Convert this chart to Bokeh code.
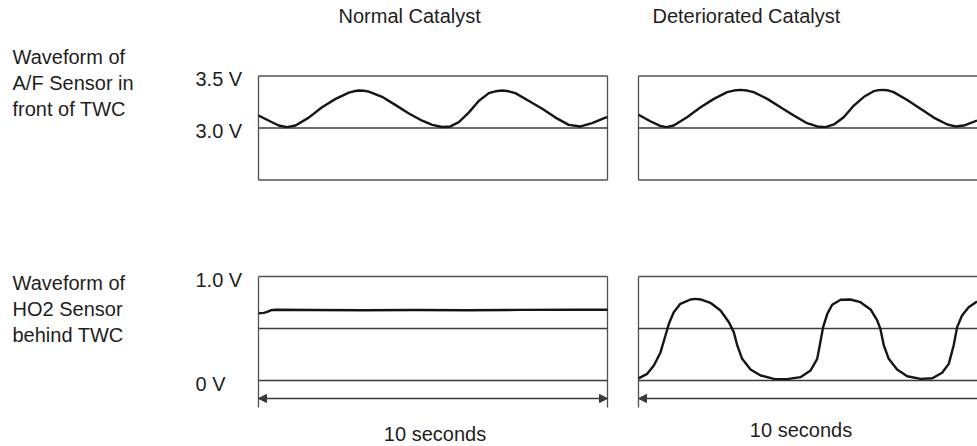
from bokeh.plotting import figure
from bokeh.layouts import column, row
from bokeh.models import Range1d, Label, Arrow, NormalHead
from bokeh.embed import file_html
from bokeh.resources import INLINE

# ---------------- data ----------------
duration_s = 10
col_titles = ["Normal Catalyst", "Deteriorated Catalyst"]
af_row_title = ["Waveform of", "A/F Sensor in", "front of TWC"]
ho2_row_title = ["Waveform of", "HO2 Sensor", "behind TWC"]
af_ticks = [3.5, 3.0]
af_tick_labels = ["3.5 V", "3.0 V"]
ho2_ticks = [1.0, 0.0]
ho2_tick_labels = ["1.0 V", "0 V"]
af_box = [2.5, 3.5]
af_ref_levels = [3.0]
ho2_box_top = 1.0
ho2_ref_levels = [0.5, 0.0]
span_label = "10 seconds"

af_normal_t = [0.00, 0.30, 0.58, 0.82, 1.06, 1.44, 1.82, 2.21, 2.59, 2.73, 2.87, 3.02, 3.16, 3.54, 3.93, 4.31,
               4.69, 4.98, 5.26, 5.50, 5.74, 6.03, 6.31, 6.60, 6.79, 6.98, 7.17, 7.36, 7.75, 8.13, 8.51, 8.89,
               9.23, 9.56, 9.94, 10.00]
af_normal_v = [3.12, 3.07, 3.024, 3.008, 3.024, 3.10, 3.20, 3.28, 3.34, 3.353, 3.36, 3.358, 3.35, 3.30, 3.22, 3.14,
               3.07, 3.03, 3.01, 3.015, 3.056, 3.15, 3.26, 3.335, 3.353, 3.36, 3.353, 3.335, 3.26, 3.185, 3.10, 3.03,
               3.015, 3.046, 3.10, 3.105]

af_det_t = [0.00, 0.34, 0.62, 0.80, 1.01, 1.39, 1.78, 2.16, 2.54, 2.73, 2.92, 3.11, 3.30, 3.69, 4.07, 4.45,
            4.83, 5.12, 5.36, 5.60, 5.88, 6.17, 6.46, 6.74, 6.88, 7.03, 7.17, 7.31, 7.70, 8.08, 8.46, 8.85,
            9.08, 9.32, 9.70]
af_det_v = [3.127, 3.065, 3.02, 3.008, 3.024, 3.104, 3.20, 3.28, 3.345, 3.36, 3.367, 3.36, 3.345, 3.28, 3.20, 3.12,
            3.046, 3.015, 3.008, 3.034, 3.104, 3.216, 3.30, 3.354, 3.364, 3.367, 3.36, 3.345, 3.27, 3.185, 3.10, 3.034,
            3.015, 3.024, 3.072]

ho2_normal_t = [0.0, 0.15, 0.25, 0.35, 0.5, 1.5, 3.0, 4.5, 6.0, 7.5, 9.0, 10.0]
ho2_normal_v = [0.645, 0.65, 0.66, 0.675, 0.68, 0.678, 0.676, 0.678, 0.676, 0.679, 0.681, 0.68]

ho2_det_t = [0.00, 0.25, 0.44, 0.63, 0.77, 0.87, 1.01, 1.20, 1.49, 1.63, 1.78, 2.06, 2.35, 2.59, 2.73, 2.83,
             2.97, 3.21, 3.50, 3.88, 4.26, 4.64, 4.93, 5.12, 5.21, 5.29, 5.41, 5.55, 5.79, 6.07, 6.36, 6.65,
             6.84, 6.93, 7.03, 7.17, 7.41, 7.70, 8.08, 8.42, 8.70, 8.89, 9.03, 9.13, 9.27, 9.46, 9.70]
ho2_det_v = [0.02, 0.064, 0.144, 0.27, 0.43, 0.545, 0.657, 0.737, 0.779, 0.785, 0.779, 0.747, 0.673, 0.56, 0.465, 0.337,
             0.208, 0.106, 0.048, 0.016, 0.013, 0.032, 0.096, 0.208, 0.368, 0.513, 0.641, 0.728, 0.776, 0.779, 0.753, 0.683,
             0.577, 0.497, 0.337, 0.208, 0.106, 0.041, 0.016, 0.022, 0.074, 0.16, 0.337, 0.513, 0.625, 0.705, 0.76]

# ---------------- styling / layout ----------------
PX_PER_S = 34.9
PX_PER_V = 104.0
FONT = "Liberation Sans"
FSIZE = "20px"
TXT = "#1e1e1e"
WAVE = "#151515"
BOX = "#505050"
REF = "#3a3a3a"
DY = 8  # baseline correction for label placement


def make_panel(w, h, t0_px, vtop, vtop_px):
    # frame covers the whole canvas so that texts are not clipped
    x0 = -t0_px / PX_PER_S
    y1 = vtop + vtop_px / PX_PER_V
    p = figure(width=w, height=h, min_border=0,
               x_range=Range1d(x0, x0 + w / PX_PER_S),
               y_range=Range1d(y1 - h / PX_PER_V, y1),
               x_axis_location=None, y_axis_location=None,
               toolbar_location=None, output_backend="svg")
    p.grid.visible = False
    p.outline_line_color = None
    p.background_fill_color = "white"
    p.border_fill_color = "white"
    return p


def text(p, x, y, s, dx, dy, align="left", baseline="alphabetic"):
    p.add_layout(Label(x=x, y=y, text=s, x_offset=dx, y_offset=dy + DY,
                       text_font=FONT, text_font_size=FSIZE, text_color=TXT,
                       text_align=align, text_baseline=baseline))


def af_panel(p, t, v):
    lo, hi = af_box
    p.segment(x0=[0, 0, 0, duration_s], y0=[hi, lo, lo, lo],
              x1=[duration_s, duration_s, 0, duration_s], y1=[hi, lo, hi, hi],
              line_color=BOX, line_width=1.3)
    for lv in af_ref_levels:
        p.line([0, duration_s], [lv, lv], line_color=REF, line_width=1.4)
    p.line(t, v, line_color=WAVE, line_width=2.4, line_join="round")


SIDE_LOW = -0.26
ARROW_Y = -0.173


def ho2_panel(p, t, v):
    top = ho2_box_top
    p.segment(x0=[0, 0, duration_s], y0=[top, SIDE_LOW, SIDE_LOW],
              x1=[duration_s, 0, duration_s], y1=[top, top, top],
              line_color=BOX, line_width=1.3)
    for lv in ho2_ref_levels:
        p.line([0, duration_s], [lv, lv], line_color=REF, line_width=1.4)
    p.line(t, v, line_color=WAVE, line_width=2.4, line_join="round")
    p.add_layout(Arrow(x_start=0, y_start=ARROW_Y, x_end=duration_s, y_end=ARROW_Y,
                       line_color=REF, line_width=1.3,
                       start=NormalHead(size=8, fill_color=REF, line_color=REF),
                       end=NormalHead(size=8, fill_color=REF, line_color=REF)))


# top row
tl = make_panel(622, 228, 258, af_box[1], 75.5)
tr = make_panel(355, 228, 16, af_box[1], 75.5)
af_panel(tl, af_normal_t, af_normal_v)
af_panel(tr, af_det_t, af_det_v)
text(tl, 0, af_box[1], col_titles[0], 80, 52)
text(tr, 0, af_box[1], col_titles[1], 14, 52)
for i, line in enumerate(af_row_title):
    text(tl, 0, af_box[1], line, -246, 11.5 - 26 * i)
for tv, tlab in zip(af_ticks, af_tick_labels):
    text(tl, 0, tv, tlab, -63, -10.5)

# bottom row
bl = make_panel(622, 218, 258, ho2_box_top, 48)
br = make_panel(355, 218, 16, ho2_box_top, 48)
ho2_panel(bl, ho2_normal_t, ho2_normal_v)
ho2_panel(br, ho2_det_t, ho2_det_v)
for i, line in enumerate(ho2_row_title):
    text(bl, 0, ho2_box_top, line, -246, -14 - 26 * i)
for tv, tlab in zip(ho2_ticks, ho2_tick_labels):
    text(bl, 0, tv, tlab, -63, -11.5)
text(bl, duration_s / 2, 0, span_label, 2, -61, align="center")
text(br, duration_s / 2, 0, span_label, -12, -57, align="center")

layout = column(row(tl, tr), row(bl, br))
open("out.html", "w").write(file_html(layout, INLINE))
